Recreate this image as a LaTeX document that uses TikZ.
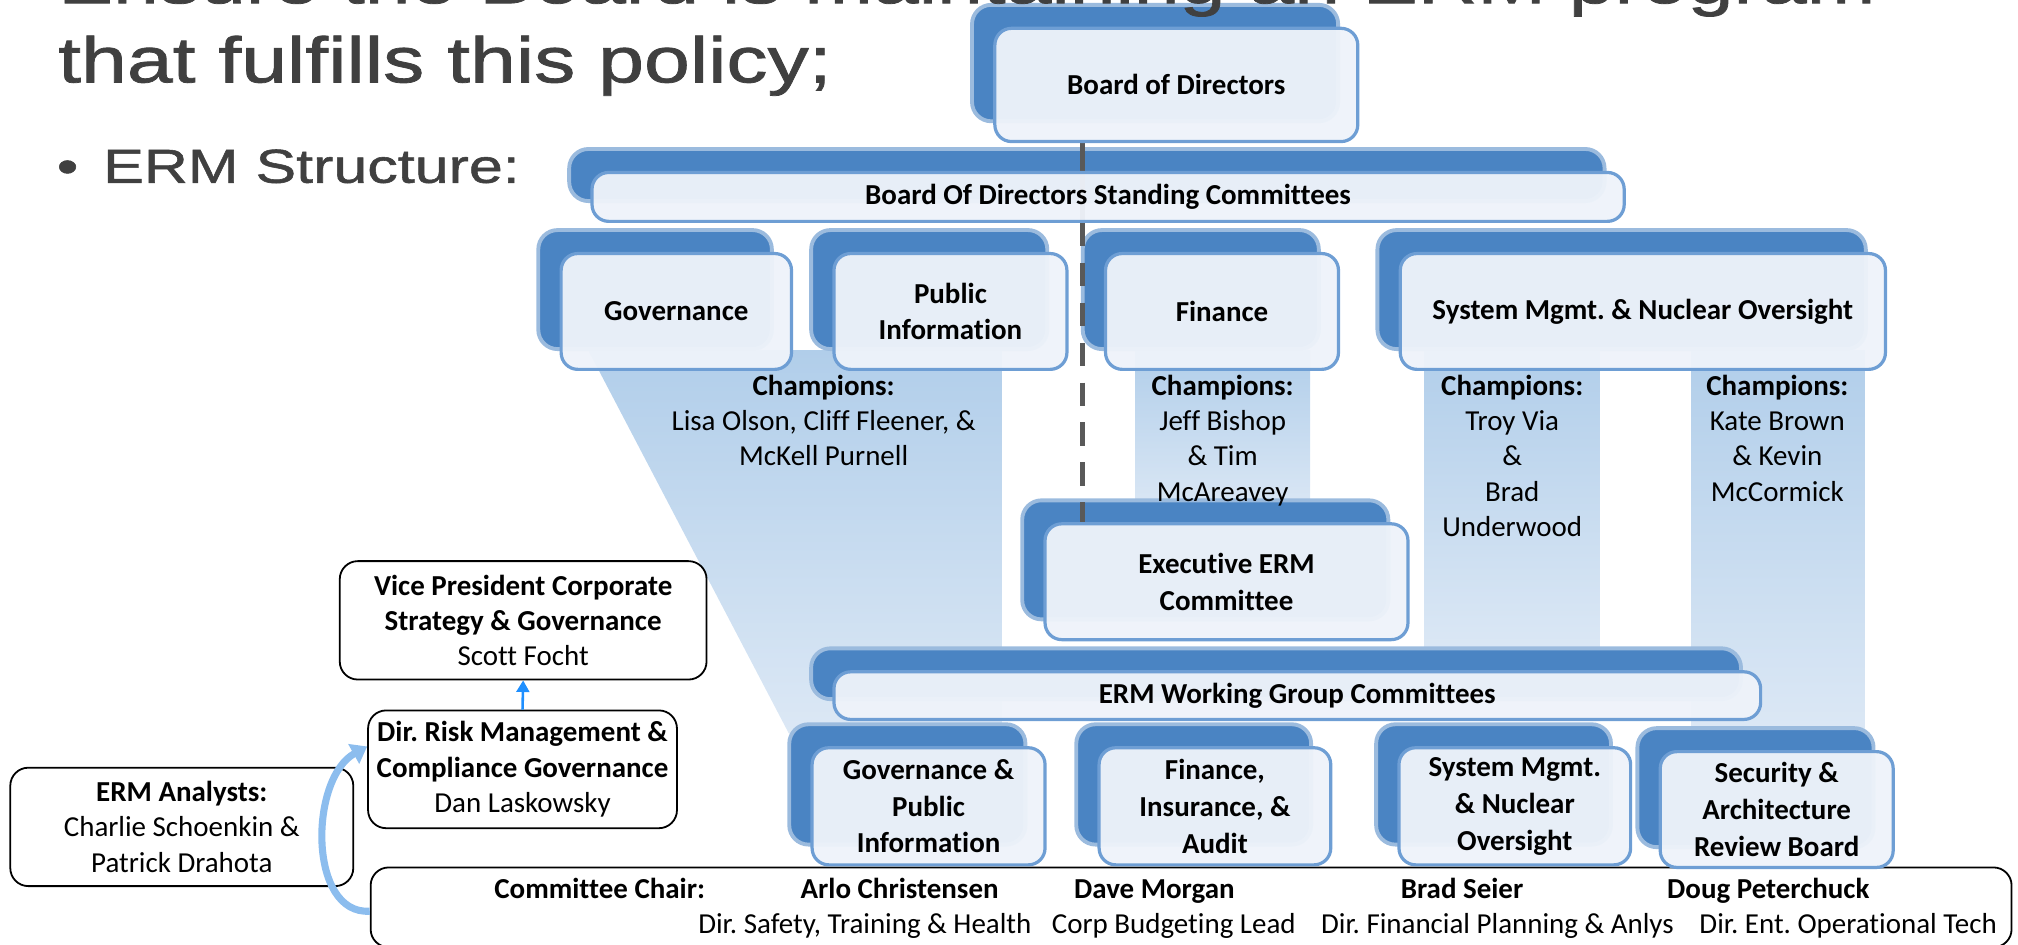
\documentclass[tikz,border=0pt]{standalone}
\usepackage{fontspec}
\setmainfont{Carlito}[Ligatures=NoCommon]
\newfontfamily\titlefont[FakeStretch=1.28,FakeBold=1.2]{Liberation Sans}
\usepackage{xcolor}
\usepackage{tikz}
\usetikzlibrary{arrows.meta}
\usetikzlibrary{backgrounds}
\AtBeginDocument{\frenchspacing}

\definecolor{blobblue}{HTML}{4A84C3}
\definecolor{boxline}{HTML}{6E9ED4}
\definecolor{boxfill}{HTML}{EEF3FA}
\definecolor{bandtop}{HTML}{B1CEEA}
\definecolor{bandbot}{HTML}{DCE8F5}
\definecolor{titlegray}{HTML}{404040}
\definecolor{linegray}{HTML}{595959}
\definecolor{curveblue}{HTML}{8CBDEE}
\definecolor{arrowblue}{HTML}{1E8FFF}

\tikzset{
  heading/.style={inner sep=0pt, text=titlegray, font=\titlefont\fontsize{50}{61}\selectfont},
  subheading/.style={inner sep=0pt, text=titlegray, font=\titlefont\fontsize{37}{44}\selectfont},
  smart/.style={draw=boxline, line width=2.5pt, fill=boxfill, fill opacity=0.96, text opacity=1,
    rounded corners=13pt, align=center, inner sep=2pt, font=\fontsize{22.5}{28.5}\selectfont\bfseries},
  blob/.style={fill=blobblue, draw=blobblue!55, line width=3pt, rounded corners=15pt},
  band/.style={top color=bandtop, bottom color=bandbot},
  plainbox/.style={draw=black, line width=1.4pt, fill=white, rounded corners=14pt, align=center, inner sep=2pt},
  champ/.style={anchor=north, align=center, inner sep=0pt},
  chairtxt/.style={anchor=base, inner sep=0pt},
}

\begin{document}
\begin{tikzpicture}[x=1pt,y=-1pt,font=\fontsize{22.5}{27.5}\selectfont]
    \useasboundingbox (0,0) rectangle (1568,734);
    \clip (0,0) rectangle (1568,734);
    %
    % slide heading
    \node[heading, anchor=base west] (head1) at (45,2.5) {Ensure the Board is maintaining an ERM program};
    \node[heading, anchor=base west] (head2) at (45,64) {that fulfills this policy;};
    \node[subheading, anchor=base west] (bullet) at (44,142) {\textbullet};
    \node[subheading, anchor=base west] (sub) at (80,142) {ERM Structure:};
    %
    % board and committees
    \node[smart, minimum width=282pt, minimum height=88pt] (board) at (914,66) {Board of Directors};
    \node[smart, minimum width=802pt, minimum height=38pt] (standing) at (861,153) {Board Of Directors Standing Committees};
    \node[smart, minimum width=179pt, minimum height=90pt] (gov) at (525.5,242) {Governance};
    \node[smart, minimum width=181pt, minimum height=90pt] (pub) at (738.5,242) {Public\\Information};
    \node[smart, minimum width=181pt, minimum height=90pt] (fin) at (949.5,242) {Finance};
    \node[smart, minimum width=377pt, minimum height=90pt] (sys) at (1276.5,242) {System Mgmt. \& Nuclear Oversight};
    \node[smart, minimum width=282pt, minimum height=90pt] (exec) at (953,452) {Executive ERM\\Committee};
    \node[smart, minimum width=720pt, minimum height=37pt] (ermwg) at (1008,540.5) {ERM Working Group Committees};
    %
    % champions
    \node[champ] (champgov) at (640,291) {\textbf{Champions:}\\Lisa Olson, Cliff Fleener, \&\\McKell Purnell};
    \node[champ] (champfin) at (950,291) {\textbf{Champions:}\\Jeff Bishop\\\& Tim\\McAreavey};
    \node[champ] (champsys) at (1175,291) {\textbf{Champions:}\\Troy Via\\\&\\Brad\\Underwood};
    \node[champ] (champsec) at (1381,291) {\textbf{Champions:}\\Kate Brown\\\& Kevin\\McCormick};
    %
    % committee chairs
    \node[plainbox, minimum width=1275pt, minimum height=62pt] (chair) at (925.5,705) {};
    \node[chairtxt] (chairlbl) at (466,698) {\textbf{Committee Chair:}};
    \node[chairtxt] (arlo) at (699,698) {\textbf{Arlo Christensen}};
    \node[chairtxt] (dave) at (897,698) {\textbf{Dave Morgan}};
    \node[chairtxt] (brad) at (1136,698) {\textbf{Brad Seier}};
    \node[chairtxt] (doug) at (1374,698) {\textbf{Doug Peterchuck}};
    \node[chairtxt] (arlotitle) at (672,725) {Dir. Safety, Training \& Health};
    \node[chairtxt] (davetitle) at (912,725) {Corp Budgeting Lead};
    \node[chairtxt] (bradtitle) at (1163.5,725) {Dir. Financial Planning \& Anlys};
    \node[chairtxt] (dougtitle) at (1436,725) {Dir. Ent. Operational Tech};
    %
    % working groups
    \node[smart, minimum width=181pt, minimum height=91pt] (wggov) at (721.5,626.5) {Governance \&\\Public\\Information};
    \node[smart, minimum width=180pt, minimum height=91pt] (wgfin) at (944,626.5) {Finance,\\Insurance, \&\\Audit};
    \node[smart, minimum width=180pt, minimum height=91pt] (wgsys) at (1177,626.5) {System Mgmt.\\\& Nuclear\\Oversight};
    \node[smart, minimum width=181pt, minimum height=90pt] (wgsec) at (1380.5,629) {Security \&\\Architecture\\Review Board};
    %
    % reporting line
    \node[plainbox, minimum width=285pt, minimum height=92pt] (vp) at (406.5,482) {\textbf{Vice President Corporate}\\\textbf{Strategy \& Governance}\\Scott Focht};
    \node[plainbox, minimum width=240pt, minimum height=91.5pt] (risk) at (406,597.75) {\textbf{Dir. Risk Management \&}\\\textbf{Compliance Governance}\\Dan Laskowsky};
    \node[plainbox, minimum width=266.5pt, minimum height=92pt] (analysts) at (141.25,642.5) {\textbf{ERM Analysts:}\\Charlie Schoenkin \&\\Patrick Drahota};
    %
    \draw[arrowblue, line width=2pt, -{Triangle[length=9pt,width=10pt]}] (risk.north) -- (vp.south);
    \draw[curveblue, line width=5.5pt, -{Triangle[length=12pt,width=17pt]}] ([yshift=-3pt]chair.west)
      .. controls +(-48,3) and +(-45,25) .. ([yshift=17.75pt]risk.west);
    %
    \begin{scope}[on background layer]
      % champion bands
      \shade[band] (457,272) -- (779,272) -- (779,570) -- (613,570) -- cycle;
      \shade[band] (882,272) rectangle (1018,400);
      \shade[band] (1107,272) rectangle (1243,510);
      \shade[band] (1314,272) rectangle (1449,570);
      % shadows behind the boxes
      \filldraw[blob] ([shift={(-16.5,-17)}]board.south west) rectangle ([shift={(-16.5,-17)}]board.north east);
      \filldraw[blob] ([shift={(-16.5,-17)}]standing.south west) rectangle ([shift={(-16.5,-17)}]standing.north east);
      \filldraw[blob] ([shift={(-16.5,-17)}]gov.south west) rectangle ([shift={(-16.5,-17)}]gov.north east);
      \filldraw[blob] ([shift={(-16.5,-17)}]pub.south west) rectangle ([shift={(-16.5,-17)}]pub.north east);
      \filldraw[blob] ([shift={(-16.5,-17)}]fin.south west) rectangle ([shift={(-16.5,-17)}]fin.north east);
      \filldraw[blob] ([shift={(-16.5,-17)}]sys.south west) rectangle ([shift={(-16.5,-17)}]sys.north east);
      \filldraw[blob] ([shift={(-16.5,-17)}]exec.south west) rectangle ([shift={(-16.5,-17)}]exec.north east);
      \filldraw[blob] ([shift={(-16.5,-17)}]ermwg.south west) rectangle ([shift={(-16.5,-17)}]ermwg.north east);
      \filldraw[blob] ([shift={(-16.5,-17)}]wggov.south west) rectangle ([shift={(-16.5,-17)}]wggov.north east);
      \filldraw[blob] ([shift={(-16.5,-17)}]wgfin.south west) rectangle ([shift={(-16.5,-17)}]wgfin.north east);
      \filldraw[blob] ([shift={(-16.5,-17)}]wgsys.south west) rectangle ([shift={(-16.5,-17)}]wgsys.north east);
      \filldraw[blob] ([shift={(-16.5,-17)}]wgsec.south west) rectangle ([shift={(-16.5,-17)}]wgsec.north east);
      % board line
      \coordinate (spine) at (841,0);
      \draw[linegray, line width=4pt] (spine |- board.south) -- (spine |- standing.south);
      \draw[linegray, line width=4pt, dash pattern=on 18pt off 13pt] (spine |- standing.south) -- (spine |- exec.north);
    \end{scope}
\end{tikzpicture}
\end{document}
